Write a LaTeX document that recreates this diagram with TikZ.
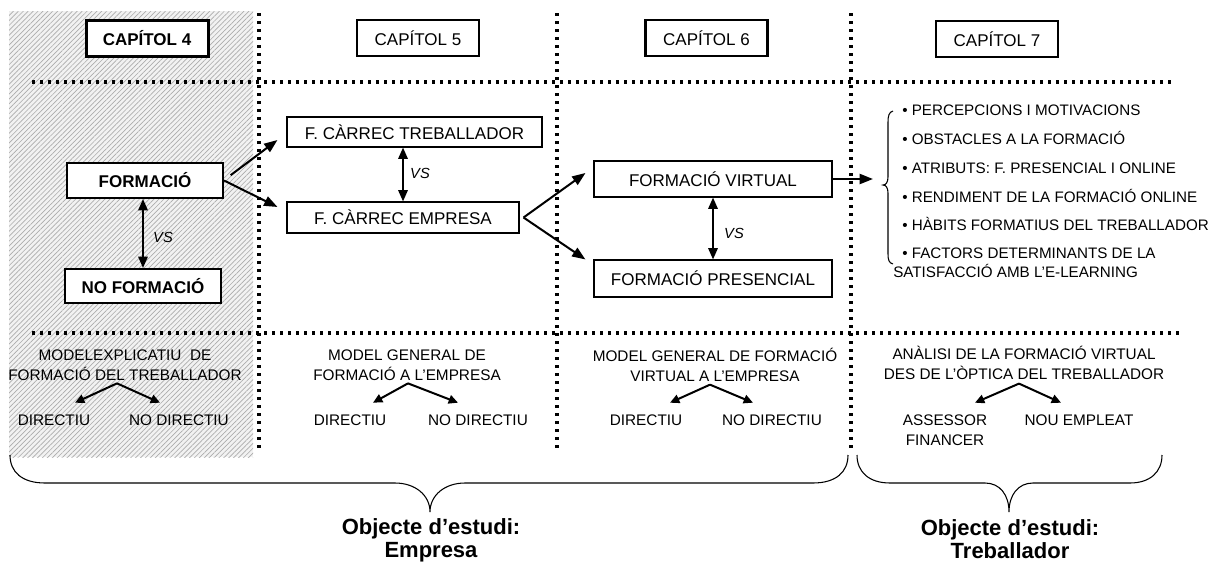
\documentclass[tikz,border=0pt]{standalone}
\usepackage{fontspec}
\setmainfont{Liberation Sans}
\usetikzlibrary{arrows.meta,patterns.meta}
\begin{document}
\begin{tikzpicture}[x=0.75pt,y=-0.75pt,
  sep/.style={line width=2.6pt, dash pattern=on 2.4pt off 3.6pt},
  chap/.style={draw, fill=white, line width=1.8pt, minimum width=91.5pt, minimum height=27pt,
    inner sep=0pt, font=\fontsize{12.75}{14}\selectfont},
  boxA/.style={draw, fill=white, line width=1.5pt, minimum width=117pt, inner sep=0pt,
    font=\bfseries\fontsize{12.75}{14}\selectfont},
  boxB/.style={draw, fill=white, line width=0.8pt, inner sep=0pt, font=\fontsize{12.75}{14}\selectfont},
  arr/.style={line width=1.5pt, -{Triangle[length=10pt,width=7.5pt]}},
  darr/.style={line width=1.5pt, {Triangle[length=8.5pt,width=7pt]}-{Triangle[length=8.5pt,width=7pt]}},
  sarr/.style={line width=1.5pt, -{Triangle[length=7pt,width=6.5pt]}},
  vs/.style={inner sep=0pt, font=\itshape\fontsize{11}{12}\selectfont},
  small/.style={inner sep=0pt, align=center, font=\fontsize{11.5}{15}\selectfont},
  item/.style={anchor=base west, inner sep=0pt, font=\fontsize{11.4}{13}\selectfont},
  goal/.style={inner sep=0pt, align=center, font=\bfseries\fontsize{16.5}{17}\selectfont},
  brace/.style={line width=0.8pt},
]
\useasboundingbox (0,0) rectangle (1223,564);
\fill[white] (0,0) rectangle (1223,564);

% hatched background of the first column
\fill[gray!10] (9,11) rectangle (253,457);
\fill[pattern={Lines[angle=45,distance=2.6pt,line width=0.5pt]}, pattern color=gray!65]
  (9,11) rectangle (253,457);

% dotted grid separating chapters and rows
\draw[sep] (259,13) -- (259,448);
\draw[sep] (557,13) -- (557,448);
\draw[sep] (851,13) -- (851,448);
\draw[sep] (32,82) -- (1172,82);
\draw[sep] (32,333) -- (1183,333);

% chapter headings
\node[chap, line width=2.25pt, font=\bfseries\fontsize{12.75}{14}\selectfont] (c4) at (147,38) {CAPÍTOL 4};
\node[chap] (c5) at (418,38) {CAPÍTOL 5};
\node[chap] (c6) at (706.5,38) {CAPÍTOL 6};
\node[chap] (c7) at (997,39) {CAPÍTOL 7};

% middle row boxes
\node[boxA, minimum height=26.25pt] (form) at (145,180.5) {FORMACIÓ};
\node[boxA, minimum height=25.5pt] (noform) at (143,286) {NO FORMACIÓ};
\node[boxB, minimum width=191.25pt, minimum height=22.5pt] (treb) at (414.5,132) {F. CÀRREC TREBALLADOR};
\node[boxB, minimum width=174pt, minimum height=23.25pt] (emp) at (403,217.5) {F. CÀRREC EMPRESA};
\node[boxB, minimum width=178.5pt, minimum height=27pt] (virt) at (713,179) {FORMACIÓ VIRTUAL};
\node[boxB, minimum width=178.5pt, minimum height=27.75pt] (pres) at (713,278.5) {FORMACIÓ PRESENCIAL};

% comparison labels
\node[vs] (vs1) at (163,237) {VS};
\node[vs] (vs2) at (420,173) {VS};
\node[vs] (vs3) at (734,233) {VS};

% middle row connectors
\draw[arr] ([xshift=5pt,yshift=4pt]form.east) -- ([xshift=-6.75pt,yshift=-6pt]treb.west);
\draw[arr] (form.east) -- ([xshift=-6.75pt,yshift=7.9pt]emp.west);
\draw[darr] ([xshift=-1.5pt]form.south) -- (noform.north);
\draw[darr] (emp.north |- treb.south) -- (emp.north);
\draw[arr] ([xshift=3pt]emp.east) -- ([xshift=-6pt,yshift=4.5pt]virt.west);
\draw[arr] ([xshift=3pt]emp.east) -- ([xshift=-6pt]pres.north west);
\draw[darr] (virt.south) -- (pres.north);
\coordinate (lst) at (873,179);
\draw[arr] (virt.east) -- (lst);

% brace grouping the list
\draw[brace] (893,111) .. controls (889,112) and (888,116) .. (888,122) -- (888,177)
  .. controls (888,182) and (886,185) .. (883,185)
  .. controls (886,185) and (888,188) .. (888,193) -- (888,254)
  .. controls (888,260) and (889,263) .. (893,264);

% list of topics
\node[item] (l1) at (902,115.5) {• PERCEPCIONS I MOTIVACIONS};
\node[item] (l2) at (902,144.5) {• OBSTACLES A LA FORMACIÓ};
\node[item] (l3) at (902,173.5) {• ATRIBUTS: F. PRESENCIAL I ONLINE};
\node[item] (l4) at (902,202.5) {• RENDIMENT DE LA FORMACIÓ ONLINE};
\node[item] (l5) at (902,230.5) {• HÀBITS FORMATIUS DEL TREBALLADOR};
\node[item] (l6) at (902,258.5) {• FACTORS DETERMINANTS DE LA};
\node[item] (l7) at (893,277.5) {SATISFACCIÓ AMB L’E-LEARNING};

% bottom row: models and their branches
\node[small] (m4) at (125,365) {MODELEXPLICATIU~~DE\\FORMACIÓ DEL TREBALLADOR};
\node[small] (d4) at (54,420) {DIRECTIU};
\node[small] (n4) at (179,420) {NO DIRECTIU};
\draw[sarr] ([xshift=-6pt,yshift=-2pt]m4.south) -- ([xshift=15.75pt,yshift=8.7pt]d4.north);
\draw[sarr] ([xshift=-6pt,yshift=-2pt]m4.south) -- ([xshift=-14.25pt,yshift=8.7pt]n4.north);

\node[small] (m5) at (407,365) {MODEL GENERAL DE\\FORMACIÓ A L’EMPRESA};
\node[small] (d5) at (350,420) {DIRECTIU};
\node[small] (n5) at (478,420) {NO DIRECTIU};
\draw[sarr] ([xshift=0.75pt,yshift=-2pt]m5.south) -- ([xshift=17.25pt,yshift=8.7pt]d5.north);
\draw[sarr] ([xshift=0.75pt,yshift=-2pt]m5.south) -- ([xshift=-15pt,yshift=8.7pt]n5.north);

\node[small] (m6) at (715,365) {MODEL GENERAL DE FORMACIÓ\\VIRTUAL A L’EMPRESA};
\node[small] (d6) at (646,420) {DIRECTIU};
\node[small] (n6) at (772,420) {NO DIRECTIU};
\draw[sarr] ([xshift=-3.75pt,yshift=-2pt]m6.south) -- ([xshift=18pt,yshift=8.7pt]d6.north);
\draw[sarr] ([xshift=-3.75pt,yshift=-2pt]m6.south) -- ([xshift=-14.25pt,yshift=8.7pt]n6.north);

\node[small] (m7) at (1024,363) {ANÀLISI DE LA FORMACIÓ VIRTUAL\\DES DE L’ÒPTICA DEL TREBALLADOR};
\node[small] (a7) at (945,430) {ASSESSOR\\FINANCER};
\node[small] (e7) at (1079,420) {NOU EMPLEAT};
\draw[sarr] ([xshift=-3.75pt,yshift=-2.7pt]m7.south) -- ([xshift=22.5pt,yshift=8.7pt]a7.north);
\draw[sarr] ([xshift=-3.75pt,yshift=-2.7pt]m7.south) -- ([xshift=-13.5pt,yshift=8.7pt]e7.north);

% braces naming the object of study
\draw[brace] (10,455) .. controls (10,472) and (22,483) .. (45,483) -- (395,483)
  .. controls (415,483) and (430,495) .. (430,512)
  .. controls (430,495) and (445,483) .. (465,483) -- (813,483)
  .. controls (836,483) and (848,472) .. (848,455);
\draw[brace] (857,455) .. controls (857,472) and (869,483) .. (890,483) -- (985,483)
  .. controls (1000,483) and (1009,495) .. (1009,512)
  .. controls (1009,495) and (1018,483) .. (1033,483) -- (1130,483)
  .. controls (1150,483) and (1162,472) .. (1162,455);

\node[goal] (g1) at (431,540) {Objecte d’estudi:\\Empresa};
\node[goal] (g2) at (1010,539) {Objecte d’estudi:\\Treballador};
\end{tikzpicture}
\end{document}
